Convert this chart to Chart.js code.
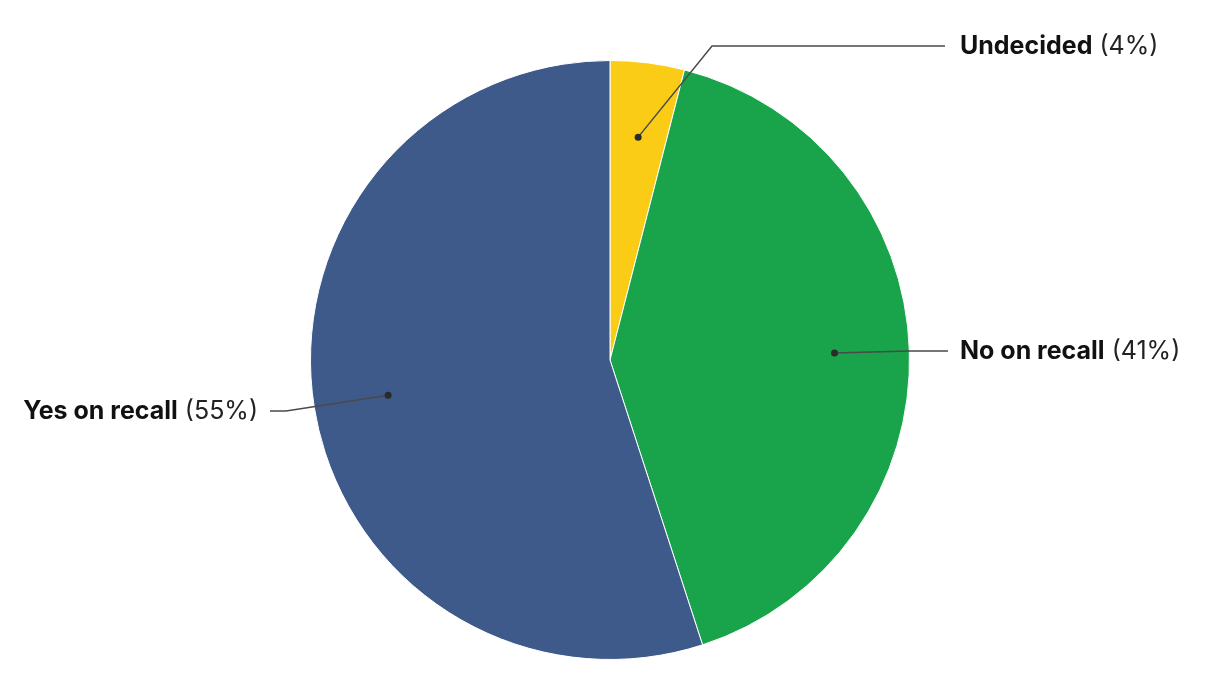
<!DOCTYPE html>
<html>
<head>
<meta charset="utf-8">
<script src="https://cdn.jsdelivr.net/npm/chart.js@4/dist/chart.umd.min.js"></script>
<style>
  html, body { margin: 0; padding: 0; background: #ffffff; }
  #wrap { width: 1220px; height: 700px; position: relative; }
</style>
</head>
<body>
<div id="wrap"><canvas id="c" width="1220" height="700"></canvas></div>
<script>
const categories = ["Undecided", "No on recall", "Yes on recall"];
const values = [4, 41, 55];
const colors = ["#FACC15", "#19A34A", "#3E5A8A"];

// leader-line layout per label (offsets from the pie centre, in px)
const labelLayout = {
  "Undecided":     { side: 1,  dy: -314, elbowX: 102, lineEnd: 335, textX: 350 },
  "No on recall":  { side: 1,  dy: -9,   elbowX: 300, lineEnd: 338, textX: 350 },
  "Yes on recall": { side: -1, dy: 51,   elbowX: 324, lineEnd: 340, textX: 352 }
};

const labelPlugin = {
  id: 'leaderLabels',
  afterDatasetsDraw(chart) {
    const ctx = chart.ctx;
    const meta = chart.getDatasetMeta(0);
    const total = values.reduce((a, b) => a + b, 0);
    meta.data.forEach((arc, i) => {
      const p = arc.getProps(['x', 'y', 'startAngle', 'endAngle', 'outerRadius'], true);
      const mid = (p.startAngle + p.endAngle) / 2;
      const r = p.outerRadius;
      const dx = p.x + Math.cos(mid) * r * 0.75;
      const dy = p.y + Math.sin(mid) * r * 0.75;
      const L = labelLayout[categories[i]];
      const ly = p.y + L.dy;
      const ex = p.x + L.side * L.elbowX;
      const lineEnd = p.x + L.side * L.lineEnd;
      const textX = p.x + L.side * L.textX;

      ctx.save();
      ctx.strokeStyle = '#4a4a4a';
      ctx.lineWidth = 1.5;
      ctx.beginPath();
      ctx.moveTo(dx, dy);
      ctx.lineTo(ex, ly);
      ctx.lineTo(lineEnd, ly);
      ctx.stroke();
      ctx.fillStyle = '#2b2b2b';
      ctx.beginPath();
      ctx.arc(dx, dy, 3.5, 0, Math.PI * 2);
      ctx.fill();

      const name = categories[i];
      const pct = ' (' + Math.round(values[i] / total * 100) + '%)';
      ctx.textBaseline = 'middle';
      const boldFont = 'bold 25px Inter, "Noto Sans", sans-serif';
      const normFont = '25px Inter, "Noto Sans", sans-serif';
      ctx.font = boldFont;
      const wName = ctx.measureText(name).width;
      ctx.font = normFont;
      const wPct = ctx.measureText(pct).width;
      let x0 = L.side > 0 ? textX : textX - wName - wPct;
      ctx.textAlign = 'left';
      ctx.fillStyle = '#111111';
      ctx.font = boldFont;
      ctx.fillText(name, x0, ly);
      ctx.font = normFont;
      ctx.fillStyle = '#222222';
      ctx.fillText(pct, x0 + wName, ly);
      ctx.restore();
    });
  }
};

new Chart(document.getElementById('c'), {
  type: 'pie',
  data: {
    labels: categories,
    datasets: [{
      data: values,
      backgroundColor: colors,
      borderColor: '#ffffff',
      borderWidth: 1
    }]
  },
  options: {
    responsive: false,
    animation: false,
    layout: { padding: { top: 60, bottom: 40, left: 10, right: 10 } },
    plugins: {
      legend: { display: false },
      tooltip: { enabled: false }
    }
  },
  plugins: [labelPlugin]
});
</script>
</body>
</html>
